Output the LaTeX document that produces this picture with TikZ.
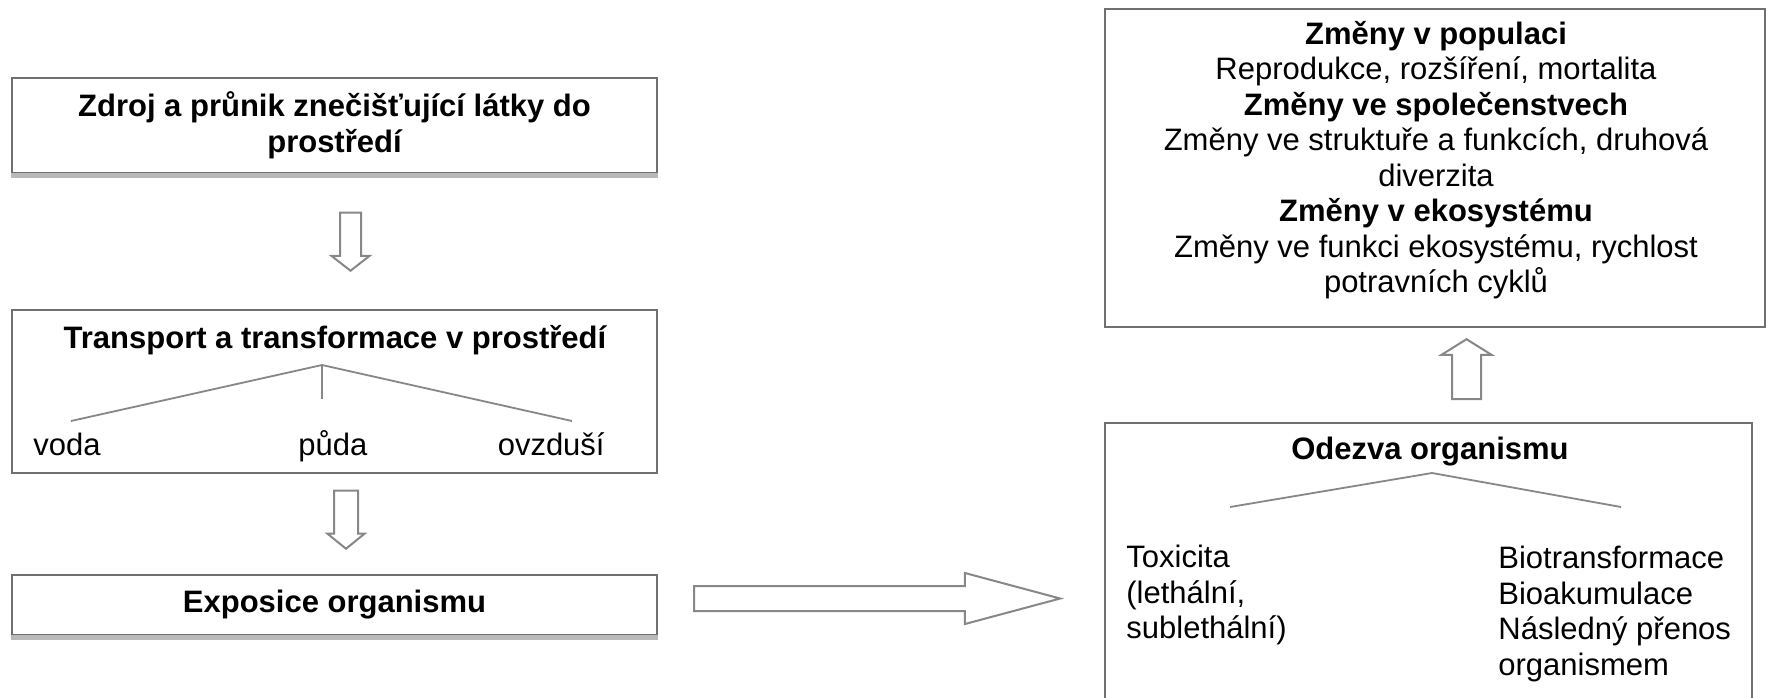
\documentclass[tikz,border=0pt]{standalone}
\usepackage{fontspec}
\setmainfont{Liberation Sans}
\usetikzlibrary{shapes.arrows}
\definecolor{boxgray}{RGB}{112,112,112}
\definecolor{arrgray}{RGB}{135,135,135}
\definecolor{edgegray}{RGB}{185,185,185}
\begin{document}
\begin{tikzpicture}[x=0.5pt,y=-0.5pt,
	every node/.style={font=\fontsize{15.5}{17.75}\selectfont,inner sep=0pt},
	box/.style={draw=boxgray,line width=1.2pt,fill=white},
	headtxt/.style={font=\fontsize{15.5}{17.75}\selectfont\bfseries},
	hollow/.style={single arrow,draw=arrgray,fill=white,line width=1pt,inner xsep=0pt,single arrow head indent=0pt},
	branch/.style={draw=arrgray,line width=0.9pt},
	lowedge/.style={draw=edgegray,line width=2.4pt}
]
\useasboundingbox (0,0) rectangle (1767,697);
\clip (0,0) rectangle (1767,697);

\node[box,headtxt,align=center,minimum width=322.5pt,minimum height=47.5pt] (src) at (334.5,125.5) {Zdroj a průnik znečišťující látky do\\prostředí};
\draw[lowedge] ([yshift=-0.6pt]src.south west) -- ([yshift=-0.6pt]src.south east);

\node[box,minimum width=322.5pt,minimum height=81.5pt] (trans) at (334.5,391.5) {};
\node[headtxt] (transT) at (335,340) {Transport a transformace v prostředí};
\coordinate (tTop) at (322,365);
\coordinate (tLeft) at (71,421);
\coordinate (tMid) at (322,399);
\coordinate (tRight) at (572,421);
\draw[branch] (tLeft) -- (tTop) -- (tRight);
\draw[branch] (tTop) -- (tMid);
\node[anchor=base west] (voda) at (33,455) {voda};
\node[anchor=base west] (puda) at (298,455) {půda};
\node[anchor=base east] (ovzdusi) at (605,455) {ovzduší};

\node[box,headtxt,minimum width=322.5pt,minimum height=30pt] (expo) at (334.5,605) {Exposice organismu};
\draw[lowedge] ([yshift=-0.6pt]expo.south west) -- ([yshift=-0.6pt]expo.south east);

\node[box,minimum width=330pt,minimum height=159pt] (eco) at (1435,168) {};
\node[align=center] (ecoT) at (1436,160) {\textbf{Změny v populaci}\\Reprodukce, rozšíření, mortalita\\\textbf{Změny ve společenstvech}\\Změny ve struktuře a funkcích, druhová\\diverzita\\\textbf{Změny v ekosystému}\\Změny ve funkci ekosystému, rychlost\\potravních cyklů};

\node[box,minimum width=323.5pt,minimum height=168.5pt] (resp) at (1428.5,591.5) {};
\node[headtxt] (respT) at (1430,452) {Odezva organismu};
\coordinate (rTop) at (1432,473);
\coordinate (rLeft) at (1230,507);
\coordinate (rRight) at (1621,507);
\draw[branch] (rLeft) -- (rTop) -- (rRight);
\node[anchor=north west,align=left] (tox) at (1126,545) {Toxicita\\(lethální,\\sublethální)};
\node[anchor=north west,align=left] (bio) at (1498,546) {Biotransformace\\Bioakumulace\\Následný přenos\\organismem};

\node[hollow,rotate=-90,anchor=tip,minimum height=29pt,inner ysep=4.75pt,single arrow head extend=4.25pt,single arrow tip angle=104] (arrA) at (350.5,272) {};
\node[hollow,rotate=-90,anchor=tip,minimum height=29pt,inner ysep=5.5pt,single arrow head extend=3.25pt,single arrow tip angle=102] (arrB) at (346,550) {};
\node[hollow,anchor=tip,minimum height=183pt,inner ysep=5.75pt,single arrow head extend=6.5pt,single arrow tip angle=30] (arrC) at (1064,598.5) {};
\node[hollow,rotate=90,anchor=tip,minimum height=30pt,inner ysep=6.75pt,single arrow head extend=5.25pt,single arrow tip angle=116] (arrD) at (1466.5,338) {};
\end{tikzpicture}
\end{document}
